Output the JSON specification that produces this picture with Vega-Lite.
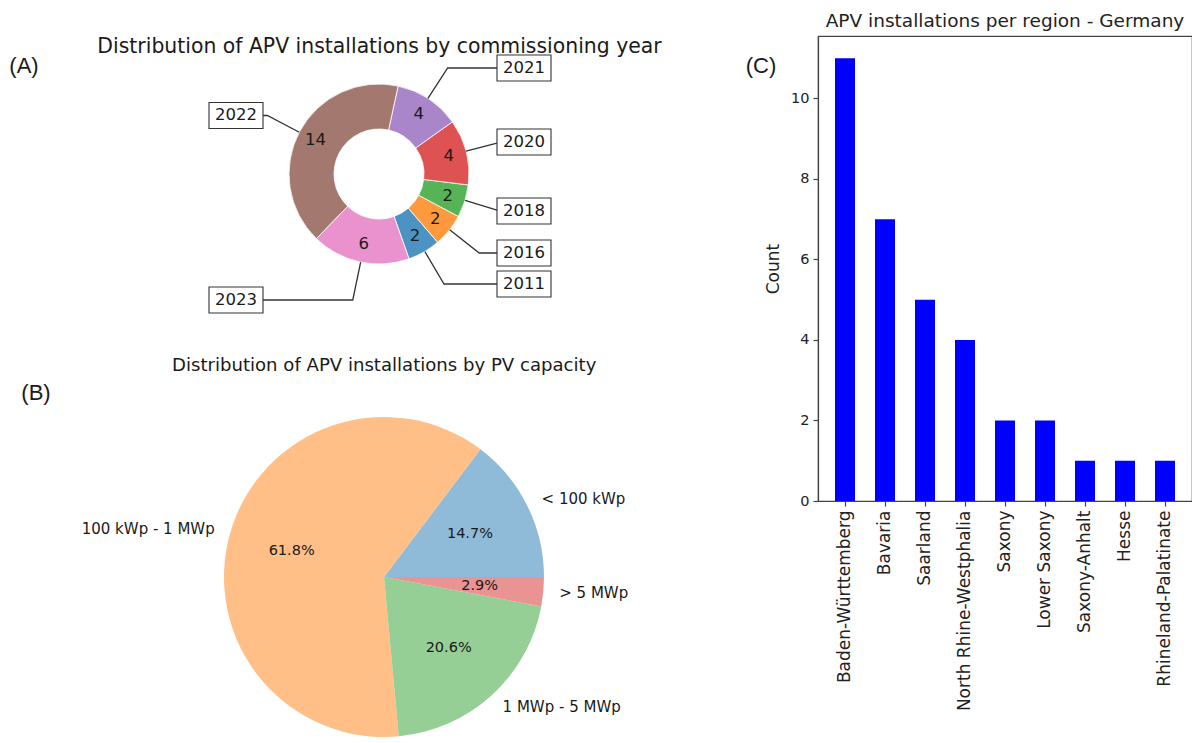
{
  "$schema": "https://vega.github.io/schema/vega-lite/v6.json",
  "background": "white",
  "padding": {"left": 0, "top": 10, "right": 0, "bottom": 0},
  "bounds": "flush",
  "spacing": 118,
  "config": {
    "view": {"stroke": null},
    "font": "DejaVu Sans",
    "text": {"font": "DejaVu Sans", "color": "#1a1a1a"},
    "axis": {"labelFont": "DejaVu Sans", "titleFont": "DejaVu Sans", "grid": false, "domainColor": "#444", "tickColor": "#444", "labelColor": "#222", "titleColor": "#222", "titleFontWeight": "normal"}
  },
  "datasets": {
    "years": [
      {"year": "2011", "n": 2, "rank": 1},
      {"year": "2016", "n": 2, "rank": 2},
      {"year": "2018", "n": 2, "rank": 3},
      {"year": "2020", "n": 4, "rank": 4},
      {"year": "2021", "n": 4, "rank": 5},
      {"year": "2022", "n": 14, "rank": 6},
      {"year": "2023", "n": 6, "rank": 7}
    ],
    "callouts": [
      {"year": "2021", "bx": 1.6111, "by": 1.1778},
      {"year": "2020", "bx": 1.6111, "by": 0.3556},
      {"year": "2018", "bx": 1.6111, "by": -0.4111},
      {"year": "2016", "bx": 1.6111, "by": -0.8778},
      {"year": "2011", "bx": 1.6111, "by": -1.2222},
      {"year": "2022", "bx": -1.5889, "by": 0.65},
      {"year": "2023", "bx": -1.5889, "by": -1.4}
    ],
    "connectors": [
      {"year": "2011", "s": 1, "cx": 0.5089, "cy": -0.8609},
      {"year": "2011", "s": 2, "cx": 0.7225, "cy": -1.2222},
      {"year": "2011", "s": 3, "cx": 1.3111, "cy": -1.2222},
      {"year": "2016", "s": 1, "cx": 0.7853, "cy": -0.619},
      {"year": "2016", "s": 2, "cx": 1.1136, "cy": -0.8778},
      {"year": "2016", "s": 3, "cx": 1.3111, "cy": -0.8778},
      {"year": "2018", "s": 1, "cx": 0.956, "cy": -0.2934},
      {"year": "2018", "s": 2, "cx": 1.3111, "cy": -0.4024},
      {"year": "2020", "s": 1, "cx": 0.9672, "cy": 0.2539},
      {"year": "2020", "s": 2, "cx": 1.3111, "cy": 0.3442},
      {"year": "2021", "s": 1, "cx": 0.5438, "cy": 0.8394},
      {"year": "2021", "s": 2, "cx": 0.763, "cy": 1.1778},
      {"year": "2021", "s": 3, "cx": 1.3111, "cy": 1.1778},
      {"year": "2022", "s": 1, "cx": -0.8858, "cy": 0.464},
      {"year": "2022", "s": 2, "cx": -1.2409, "cy": 0.65},
      {"year": "2022", "s": 3, "cx": -1.2889, "cy": 0.65},
      {"year": "2023", "s": 1, "cx": -0.2038, "cy": -0.979},
      {"year": "2023", "s": 2, "cx": -0.2914, "cy": -1.4},
      {"year": "2023", "s": 3, "cx": -1.2889, "cy": -1.4}
    ],
    "caps": [
      {"cap": "< 100 kWp", "n": 5, "rank": 1, "pct": "14.7%"},
      {"cap": "100 kWp - 1 MWp", "n": 21, "rank": 2, "pct": "61.8%"},
      {"cap": "1 MWp - 5 MWp", "n": 7, "rank": 3, "pct": "20.6%"},
      {"cap": "> 5 MWp", "n": 1, "rank": 4, "pct": "2.9%"}
    ],
    "regions": [
      {"region": "Baden-Württemberg", "count": 11},
      {"region": "Bavaria", "count": 7},
      {"region": "Saarland", "count": 5},
      {"region": "North Rhine-Westphalia", "count": 4},
      {"region": "Saxony", "count": 2},
      {"region": "Lower Saxony", "count": 2},
      {"region": "Saxony-Anhalt", "count": 1},
      {"region": "Hesse", "count": 1},
      {"region": "Rhineland-Palatinate", "count": 1}
    ]
  },
  "hconcat": [
    {
      "width": 700,
      "height": 708,
      "resolve": {"scale": {"theta": "independent", "color": "independent"}},
      "layer": [
        {
          "data": {"name": "years"},
          "mark": {"type": "arc", "outerRadius": 90, "innerRadius": 45, "stroke": "white", "strokeWidth": 0.8},
          "encoding": {
            "x": {"datum": 0, "type": "quantitative", "scale": {"domain": [-4.2111, 3.5667], "nice": false, "zero": false}, "axis": null},
            "y": {"datum": 0, "type": "quantitative", "scale": {"domain": [-6.3333, 1.5333], "nice": false, "zero": false}, "axis": null},
            "theta": {"field": "n", "type": "quantitative", "stack": true, "scale": {"domain": [0, 34], "range": [2.8012, 9.0844]}},
            "order": {"field": "rank", "type": "quantitative", "sort": "descending"},
            "color": {"field": "year", "type": "nominal", "legend": null, "scale": {"domain": ["2011", "2016", "2018", "2020", "2021", "2022", "2023"], "range": ["#4c92c3", "#ff993e", "#56b356", "#de5253", "#a985ca", "#a3786f", "#e992ce"]}}
          }
        },
        {
          "data": {"name": "years"},
          "mark": {"type": "text", "radius": 72, "fontSize": 16.5, "align": "center", "baseline": "middle"},
          "encoding": {
            "x": {"datum": 0, "type": "quantitative", "scale": {"domain": [-4.2111, 3.5667], "nice": false, "zero": false}, "axis": null},
            "y": {"datum": 0, "type": "quantitative", "scale": {"domain": [-6.3333, 1.5333], "nice": false, "zero": false}, "axis": null},
            "theta": {"field": "n", "type": "quantitative", "stack": true, "scale": {"domain": [0, 34], "range": [2.8012, 9.0844]}},
            "order": {"field": "rank", "type": "quantitative", "sort": "descending"},
            "detail": {"field": "year", "type": "nominal"},
            "text": {"field": "n", "type": "quantitative"}
          }
        },
        {
          "data": {"name": "connectors"},
          "mark": {"type": "line", "color": "#333", "strokeWidth": 1.3},
          "encoding": {
            "x": {"field": "cx", "type": "quantitative", "scale": {"domain": [-4.2111, 3.5667], "nice": false, "zero": false}, "axis": null},
            "y": {"field": "cy", "type": "quantitative", "scale": {"domain": [-6.3333, 1.5333], "nice": false, "zero": false}, "axis": null},
            "detail": {"field": "year", "type": "nominal"},
            "order": {"field": "s", "type": "quantitative"}
          }
        },
        {
          "data": {"name": "callouts"},
          "mark": {"type": "point", "shape": "M-1,-0.4815L1,-0.4815L1,0.4815L-1,0.4815Z", "size": 2916, "filled": true, "fill": "white", "stroke": "#333", "strokeWidth": 1.1, "opacity": 1},
          "encoding": {
            "x": {"field": "bx", "type": "quantitative", "scale": {"domain": [-4.2111, 3.5667], "nice": false, "zero": false}, "axis": null},
            "y": {"field": "by", "type": "quantitative", "scale": {"domain": [-6.3333, 1.5333], "nice": false, "zero": false}, "axis": null}
          }
        },
        {
          "data": {"name": "callouts"},
          "mark": {"type": "text", "fontSize": 16.5, "align": "center", "baseline": "middle"},
          "encoding": {
            "x": {"field": "bx", "type": "quantitative", "scale": {"domain": [-4.2111, 3.5667], "nice": false, "zero": false}, "axis": null},
            "y": {"field": "by", "type": "quantitative", "scale": {"domain": [-6.3333, 1.5333], "nice": false, "zero": false}, "axis": null},
            "text": {"field": "year", "type": "nominal"}
          }
        },
        {
          "data": {"name": "caps"},
          "mark": {"type": "arc", "outerRadius": 160},
          "encoding": {
            "x": {"datum": 0.0556, "type": "quantitative", "scale": {"domain": [-4.2111, 3.5667], "nice": false, "zero": false}, "axis": null},
            "y": {"datum": -4.4778, "type": "quantitative", "scale": {"domain": [-6.3333, 1.5333], "nice": false, "zero": false}, "axis": null},
            "theta": {"field": "n", "type": "quantitative", "stack": true, "scale": {"domain": [0, 34], "range": [1.5708, 7.854]}},
            "order": {"field": "rank", "type": "quantitative", "sort": "descending"},
            "color": {"field": "cap", "type": "nominal", "legend": null, "scale": {"domain": ["< 100 kWp", "100 kWp - 1 MWp", "1 MWp - 5 MWp", "> 5 MWp"], "range": ["#8fbbd9", "#ffbf86", "#95cf95", "#ea9393"]}}
          }
        },
        {
          "data": {"name": "caps"},
          "mark": {"type": "text", "radius": 96, "fontSize": 14.5, "align": "center", "baseline": "middle"},
          "encoding": {
            "x": {"datum": 0.0556, "type": "quantitative", "scale": {"domain": [-4.2111, 3.5667], "nice": false, "zero": false}, "axis": null},
            "y": {"datum": -4.4778, "type": "quantitative", "scale": {"domain": [-6.3333, 1.5333], "nice": false, "zero": false}, "axis": null},
            "theta": {"field": "n", "type": "quantitative", "stack": true, "scale": {"domain": [0, 34], "range": [1.5708, 7.854]}},
            "order": {"field": "rank", "type": "quantitative", "sort": "descending"},
            "detail": {"field": "cap", "type": "nominal"},
            "text": {"field": "pct", "type": "nominal"}
          }
        },
        {
          "data": {"name": "caps"},
          "mark": {"type": "text", "radius": 176, "fontSize": 15, "align": "left", "baseline": "middle"},
          "encoding": {
            "x": {"datum": 0.0556, "type": "quantitative", "scale": {"domain": [-4.2111, 3.5667], "nice": false, "zero": false}, "axis": null},
            "y": {"datum": -4.4778, "type": "quantitative", "scale": {"domain": [-6.3333, 1.5333], "nice": false, "zero": false}, "axis": null},
            "theta": {"field": "n", "type": "quantitative", "stack": true, "scale": {"domain": [0, 34], "range": [1.5708, 7.854]}},
            "order": {"field": "rank", "type": "quantitative", "sort": "descending"},
            "detail": {"field": "cap", "type": "nominal"},
            "text": {"condition": {"test": "datum.cap !== '100 kWp - 1 MWp'", "field": "cap", "type": "nominal"}, "value": ""}
          }
        },
        {
          "data": {"name": "caps"},
          "mark": {"type": "text", "radius": 176, "fontSize": 15, "align": "right", "baseline": "middle"},
          "encoding": {
            "x": {"datum": 0.0556, "type": "quantitative", "scale": {"domain": [-4.2111, 3.5667], "nice": false, "zero": false}, "axis": null},
            "y": {"datum": -4.4778, "type": "quantitative", "scale": {"domain": [-6.3333, 1.5333], "nice": false, "zero": false}, "axis": null},
            "theta": {"field": "n", "type": "quantitative", "stack": true, "scale": {"domain": [0, 34], "range": [1.5708, 7.854]}},
            "order": {"field": "rank", "type": "quantitative", "sort": "descending"},
            "detail": {"field": "cap", "type": "nominal"},
            "text": {"condition": {"test": "datum.cap === '100 kWp - 1 MWp'", "field": "cap", "type": "nominal"}, "value": ""}
          }
        },
        {
          "data": {"values": [{"t": "Distribution of APV installations by commissioning year"}]},
          "mark": {"type": "text", "fontSize": 20.4, "align": "center", "baseline": "alphabetic"},
          "encoding": {
            "x": {"datum": 0.0056, "type": "quantitative", "scale": {"domain": [-4.2111, 3.5667], "nice": false, "zero": false}, "axis": null},
            "y": {"datum": 1.3444, "type": "quantitative", "scale": {"domain": [-6.3333, 1.5333], "nice": false, "zero": false}, "axis": null},
            "text": {"field": "t", "type": "nominal"}
          }
        },
        {
          "data": {"values": [{"t": "Distribution of APV installations by PV capacity"}]},
          "mark": {"type": "text", "fontSize": 18.1, "align": "center", "baseline": "alphabetic"},
          "encoding": {
            "x": {"datum": 0.0578, "type": "quantitative", "scale": {"domain": [-4.2111, 3.5667], "nice": false, "zero": false}, "axis": null},
            "y": {"datum": -2.1889, "type": "quantitative", "scale": {"domain": [-6.3333, 1.5333], "nice": false, "zero": false}, "axis": null},
            "text": {"field": "t", "type": "nominal"}
          }
        },
        {
          "data": {"values": [{"t": "(A)"}]},
          "mark": {"type": "text", "fontSize": 22, "font": "Liberation Sans", "align": "center", "baseline": "middle"},
          "encoding": {
            "x": {"datum": -3.9444, "type": "quantitative", "scale": {"domain": [-4.2111, 3.5667], "nice": false, "zero": false}, "axis": null},
            "y": {"datum": 1.2, "type": "quantitative", "scale": {"domain": [-6.3333, 1.5333], "nice": false, "zero": false}, "axis": null},
            "text": {"field": "t", "type": "nominal"}
          }
        },
        {
          "data": {"values": [{"t": "(B)"}]},
          "mark": {"type": "text", "fontSize": 22, "font": "Liberation Sans", "align": "center", "baseline": "middle"},
          "encoding": {
            "x": {"datum": -3.8111, "type": "quantitative", "scale": {"domain": [-4.2111, 3.5667], "nice": false, "zero": false}, "axis": null},
            "y": {"datum": -2.4333, "type": "quantitative", "scale": {"domain": [-6.3333, 1.5333], "nice": false, "zero": false}, "axis": null},
            "text": {"field": "t", "type": "nominal"}
          }
        },
        {
          "data": {"values": [{"t": "(C)"}]},
          "mark": {"type": "text", "fontSize": 22, "font": "Liberation Sans", "align": "center", "baseline": "middle"},
          "encoding": {
            "x": {"datum": 4.2444, "type": "quantitative", "scale": {"domain": [-4.2111, 3.5667], "nice": false, "zero": false}, "axis": null},
            "y": {"datum": 1.2, "type": "quantitative", "scale": {"domain": [-6.3333, 1.5333], "nice": false, "zero": false}, "axis": null},
            "text": {"field": "t", "type": "nominal"}
          }
        }
      ]
    },
    {
      "width": 374,
      "height": 465,
      "view": {"stroke": "#444", "strokeWidth": 1.2},
      "title": {"text": "APV installations per region - Germany", "font": "DejaVu Sans", "fontSize": 18.5, "fontWeight": "normal", "color": "#222", "anchor": "middle", "offset": 6},
      "data": {"name": "regions"},
      "mark": {"type": "bar", "color": "#0000ff"},
      "encoding": {
        "x": {
          "field": "region", "type": "nominal", "sort": null,
          "scale": {"paddingInner": 0.5, "paddingOuter": 0.425},
          "axis": {"title": null, "labelAngle": -90, "labelFontSize": 17, "labelLimit": 400, "tickSize": 5, "tickWidth": 1.2, "domainWidth": 1.2, "labelPadding": 4}
        },
        "y": {
          "field": "count", "type": "quantitative",
          "scale": {"domain": [0, 11.55], "nice": false},
          "axis": {"title": "Count", "values": [0, 2, 4, 6, 8, 10], "labelFontSize": 14.5, "tickSize": 5, "tickWidth": 1.2, "domainWidth": 1.2, "labelPadding": 4, "titleFontSize": 17, "titlePadding": 8}
        }
      }
    }
  ]
}
